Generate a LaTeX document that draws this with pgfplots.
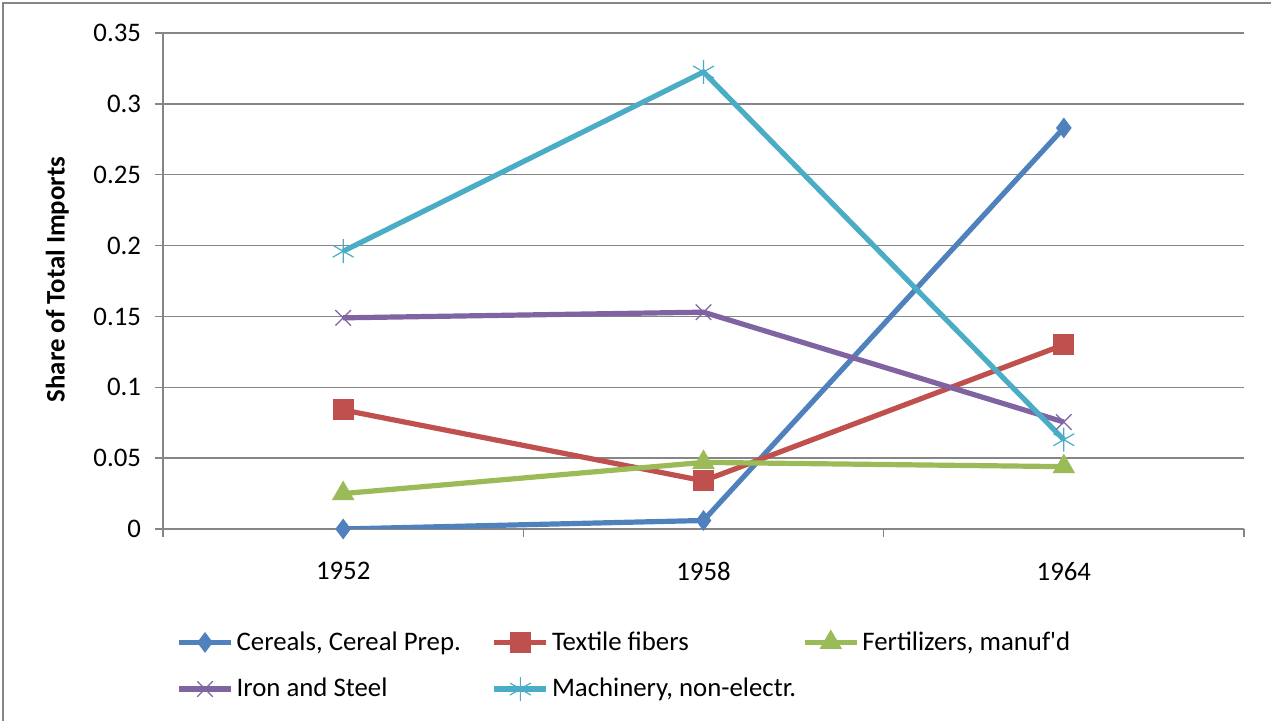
\documentclass[border=0pt]{standalone}
\usepackage{fontspec}
\setmainfont{Carlito}
\usepackage{pgfplots}
\pgfplotsset{compat=1.18}
\definecolor{cblue}{HTML}{4F81BD}
\definecolor{cred}{HTML}{C0504D}
\definecolor{cgreen}{HTML}{9BBB59}
\definecolor{cpurple}{HTML}{8064A2}
\definecolor{caqua}{HTML}{4BACC6}
\definecolor{gridgray}{HTML}{868686}
\begin{document}
\begin{tikzpicture}[font=\fontsize{13.4pt}{16pt}\selectfont]
\useasboundingbox (0,0) rectangle (635.5pt,360.5pt);
\clip (0,0) rectangle (635.5pt,360.5pt);
\draw[gridgray, line width=1pt] (1.5pt,-5pt) -- (1.5pt,359pt) -- (640pt,359pt);
\begin{axis}[
  at={(81.5pt,96pt)}, anchor=south west,
  scale only axis, width=540.5pt, height=248pt,
  xmin=0.5, xmax=3.5, ymin=0, ymax=0.35,
  axis x line*=bottom, axis y line*=left,
  axis line style={gridgray, line width=0.75pt},
  ymajorgrids, grid style={gridgray, line width=0.75pt},
  xtick={1,2,3}, xticklabels={1952,1958,1964},
  minor xtick={0.5,1.5,2.5,3.5},
  ytick={0,0.05,0.1,0.15,0.2,0.25,0.3,0.35},
  scaled y ticks=false,
  yticklabel style={/pgf/number format/fixed, /pgf/number format/precision=2, /pgf/number format/assume math mode=true, xshift=-3.5pt},
  xticklabel style={yshift=-9pt},
  tick align=outside,
  major tick length=4pt, minor tick length=4pt,
  tick style={gridgray, line width=0.75pt},
  major x tick style={draw=none},
  ylabel={\bfseries Share of Total Imports},
  ylabel style={at={(axis description cs:-0.0977,0.503)}, anchor=center},
  every axis plot/.append style={line width=2.6pt},
  legend columns=3,
  legend cell align=left,
  legend image code/.code={\draw[#1, mark repeat=2, mark phase=2] plot coordinates {(0pt,0pt) (13pt,0pt) (26pt,0pt)};},
  legend style={at={(axis description cs:0.0065,-0.19)}, anchor=north west, draw=none, fill=none,
     row sep=8.5pt,
     nodes={inner xsep=1.5pt, inner ysep=2pt},
     /tikz/column 2/.style={column sep=14pt},
     /tikz/column 4/.style={column sep=1.5pt}},
]
\addplot[cblue, mark=diamond*, mark size=4.8pt, mark options={solid, line width=0.5pt, fill=cblue}] coordinates {(1,0.0) (2,0.006) (3,0.283)};
\addlegendentry{Cereals, Cereal Prep.}
\addplot[cred, mark=square*, mark size=5pt, mark options={solid, line width=0.5pt, fill=cred}] coordinates {(1,0.084) (2,0.034) (3,0.130)};
\addlegendentry{Textile fibers}
\addplot[cgreen, mark=triangle*, mark size=6pt, mark options={solid, line width=0.5pt, fill=cgreen}] coordinates {(1,0.025) (2,0.047) (3,0.044)};
\addlegendentry{Fertilizers, manuf\textquotesingle d}
\addplot[cpurple, mark=x, mark size=5.5pt, mark options={solid, line width=0.6pt}] coordinates {(1,0.149) (2,0.153) (3,0.0755)};
\addlegendentry{Iron and Steel}
\addplot[caqua, mark=asterisk, mark size=6pt, mark options={solid, line width=0.6pt}] coordinates {(1,0.196) (2,0.3225) (3,0.063)};
\addlegendentry{Machinery, non-electr.}
\end{axis}
\end{tikzpicture}
\end{document}
